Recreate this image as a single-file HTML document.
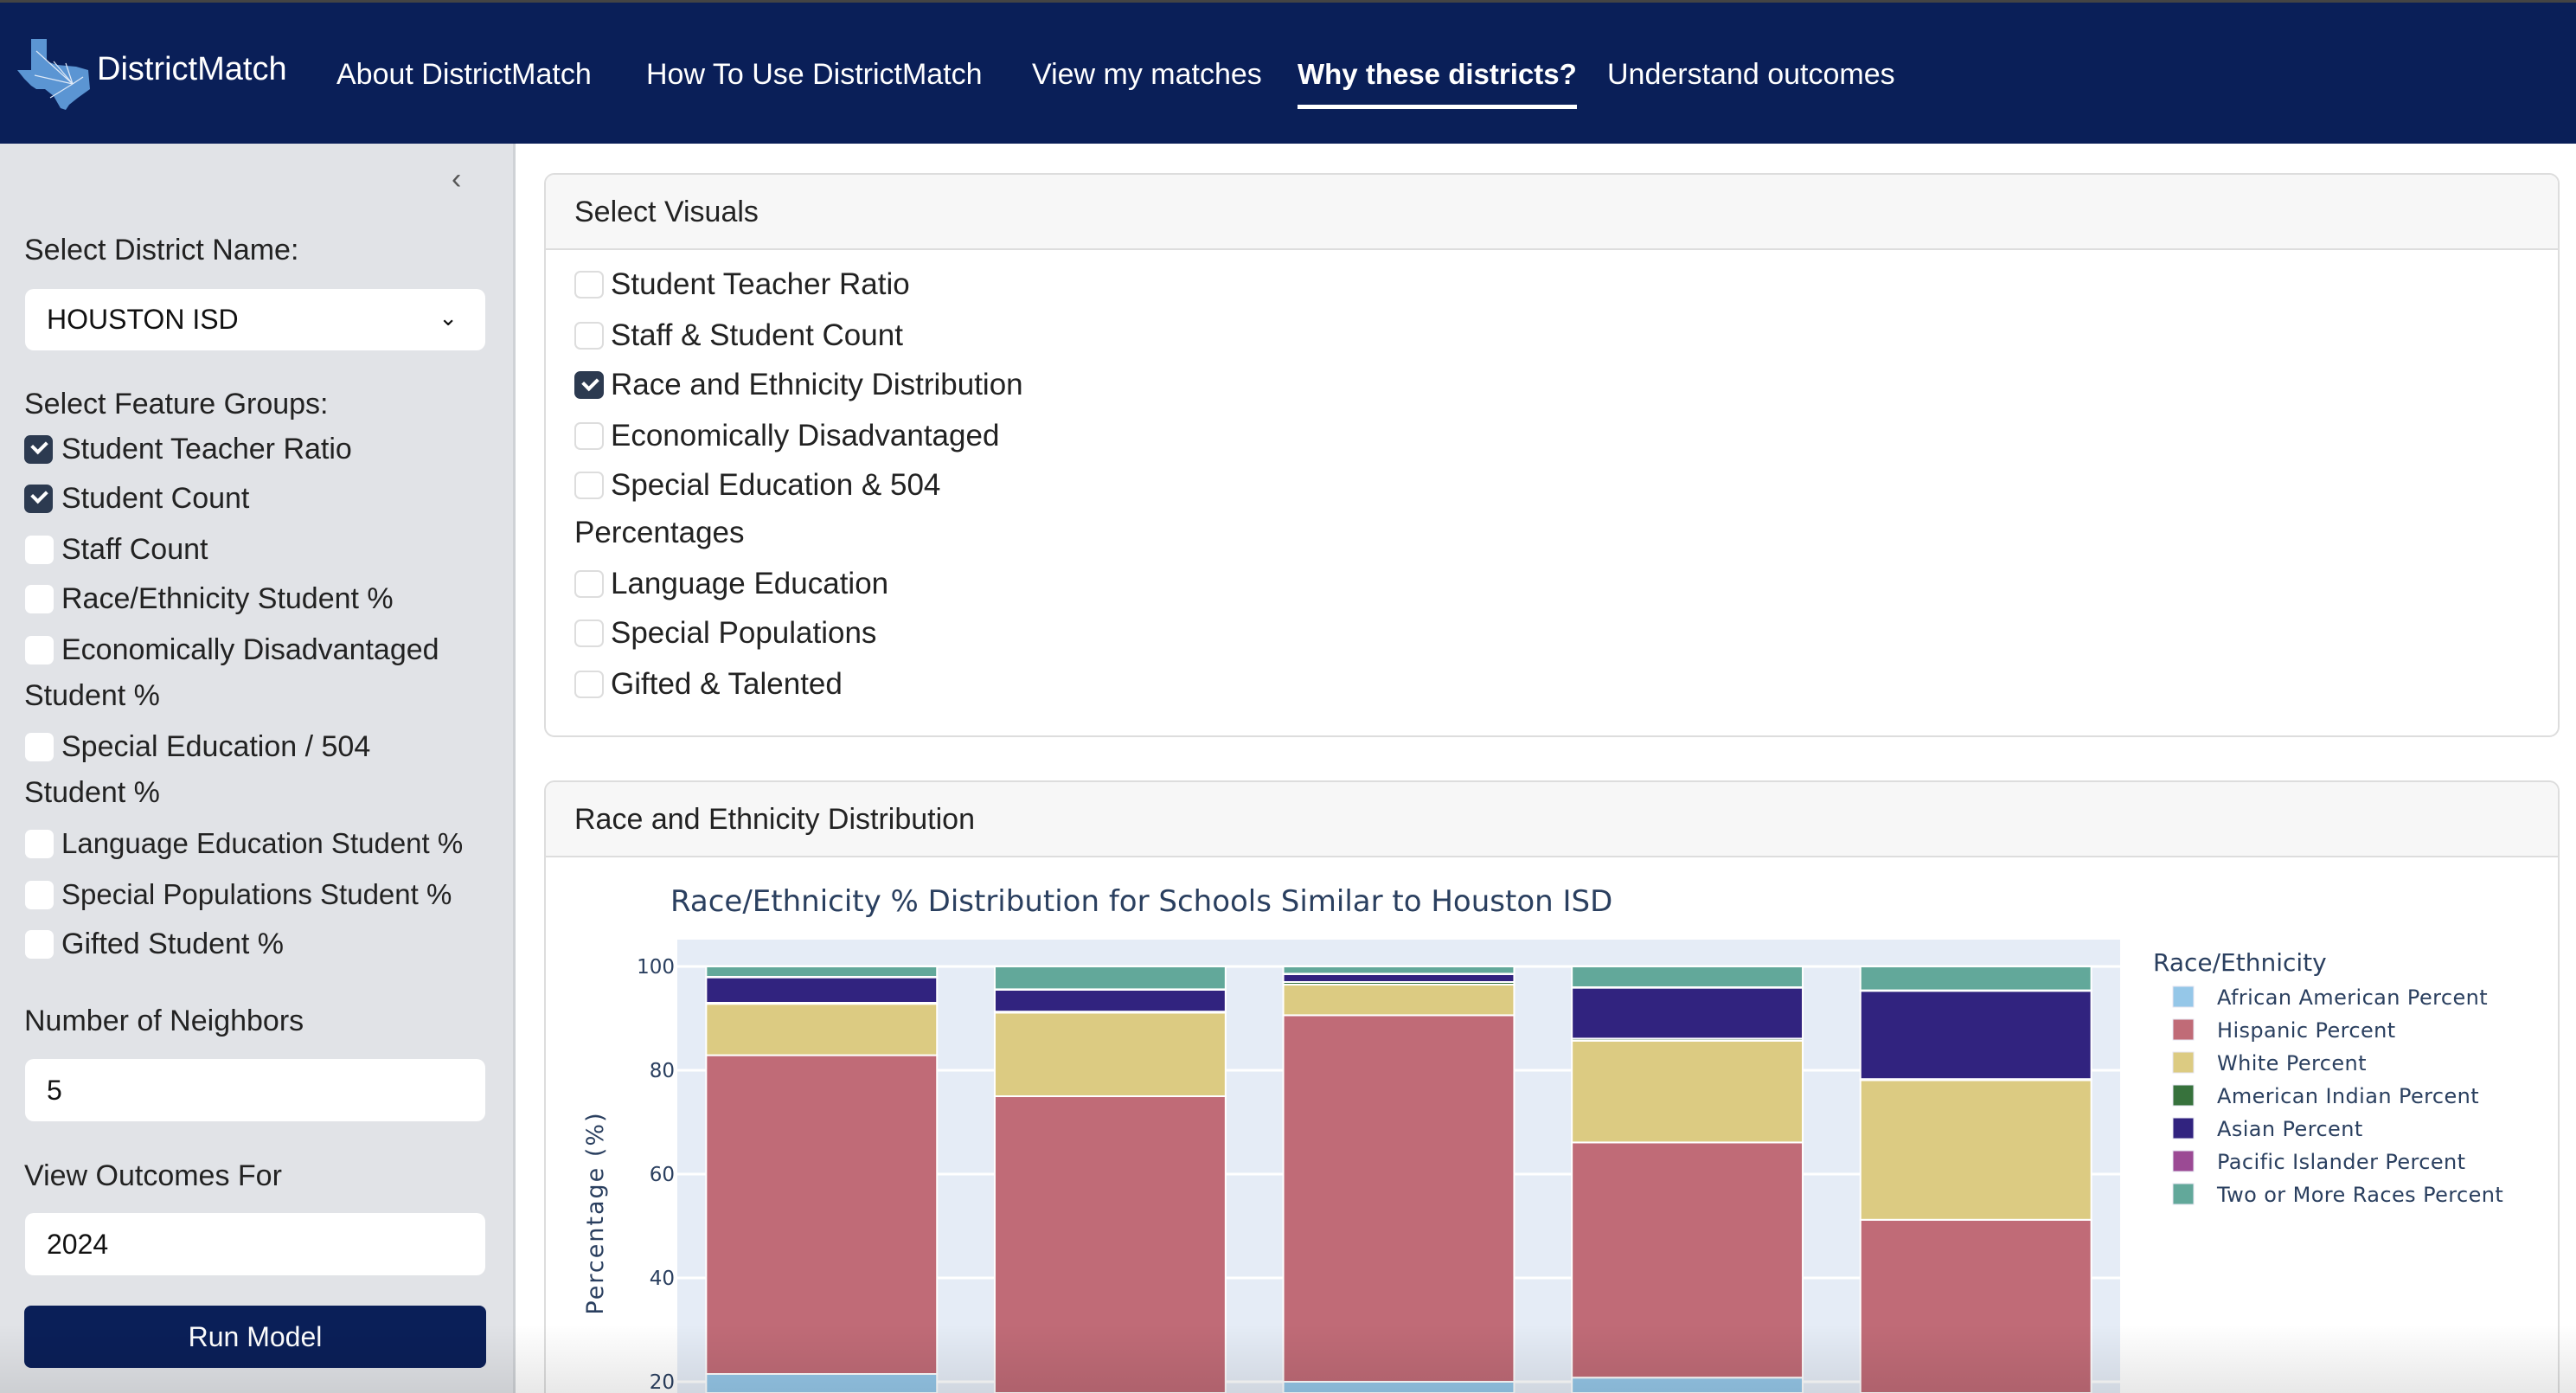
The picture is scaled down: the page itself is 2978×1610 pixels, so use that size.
<!DOCTYPE html>
<html><head><meta charset="utf-8">
<style>
*{box-sizing:border-box;margin:0;padding:0}
html{width:2978px;height:1610px;overflow:hidden}
body{width:2978px;height:1610px;overflow:hidden;position:relative;background:#fff;font-family:"Liberation Sans",sans-serif;color:#222}
.abs{position:absolute;white-space:nowrap}
#nav{position:absolute;left:0;top:0;width:2978px;height:166px;background:#0a1f58;border-top:3px solid #444}
.nl{position:absolute;top:62px;color:#fff;font-size:34px;line-height:42px}
#side{position:absolute;left:0;top:166px;width:596px;height:1444px;background:#e1e3e7;border-right:3px solid #cfd2d6}
.lbl{position:absolute;left:28px;font-size:34px;line-height:44px;color:#222}
.cb{position:absolute;width:33px;height:33px;background:#fff;border-radius:7px}
.cb.on{background:#2c3a50}
.cb.on::after{content:"";position:absolute;left:9px;top:6px;width:13px;height:8px;border-left:4px solid #fff;border-bottom:4px solid #fff;transform:rotate(-45deg)}
.field{position:absolute;left:29px;width:532px;background:#fff;border-radius:10px;font-size:32px;padding-left:25px;color:#111}
.card{position:absolute;left:629px;width:2330px;border:2px solid #ddd;border-radius:12px;overflow:hidden;background:#fff}
.chd{height:87px;background:#f7f7f7;border-bottom:2px solid #ddd;font-size:34px;line-height:87px;padding-left:33px;color:#222}
.vcb{position:absolute;left:33px;width:34px;height:32px;border:2px solid #ddd;border-radius:7px;background:#fff}
.vcb.on{background:#2c3a50;border-color:#2c3a50}
.vcb.on::after{content:"";position:absolute;left:8px;top:5px;width:13px;height:8px;border-left:4px solid #fff;border-bottom:4px solid #fff;transform:rotate(-45deg)}
.vt{position:absolute;left:75px;font-size:35px;line-height:44px;color:#222}
</style></head><body>
<div id="nav">
  <svg class="abs" style="left:18px;top:38px" width="90" height="86" viewBox="0 0 90 86">
    <path d="M18 4 L36 4 L36 30 L48 34 L70 36 L84 40 L86 62 L72 72 L62 80 L58 86 L52 84 L44 70 L34 62 L24 62 L18 58 L10 50 L2 40 L18 40 Z" fill="#5b95d3"/>
    <g stroke="#dfe9f7" stroke-width="1.2"><line x1="66" y1="56" x2="24" y2="18"/><line x1="66" y1="56" x2="22" y2="46"/><line x1="66" y1="56" x2="44" y2="30"/><line x1="66" y1="56" x2="58" y2="32"/><line x1="66" y1="56" x2="40" y2="72"/><line x1="66" y1="56" x2="78" y2="48"/></g>
  </svg>
  <div class="nl" style="left:112px;top:56px;font-size:38px">DistrictMatch</div>
  <div class="nl" style="left:389px">About DistrictMatch</div>
  <div class="nl" style="left:747px">How To Use DistrictMatch</div>
  <div class="nl" style="left:1193px">View my matches</div>
  <div class="nl" style="left:1500px;font-weight:bold;font-size:33px;border-bottom:5px solid #fff;padding-bottom:14px">Why these districts?</div>
  <div class="nl" style="left:1858px">Understand outcomes</div>
</div>

<div id="side">
  <div class="abs" style="left:522px;top:22px;font-size:34px;color:#555">&#8249;</div>
  <div class="lbl" style="top:101px">Select District Name:</div>
  <div class="field" style="top:168px;height:71px;line-height:71px">HOUSTON ISD<span style="position:absolute;right:32px;top:-2px;font-size:26px">&#8964;</span></div>
  <div class="lbl" style="top:279px">Select Feature Groups:</div>
  <div class="cb on" style="left:28px;top:337px"></div>
  <div class="lbl" style="left:71px;top:331px">Student Teacher Ratio</div>
  <div class="cb on" style="left:28px;top:394px"></div>
  <div class="lbl" style="left:71px;top:388px">Student Count</div>
  <div class="cb" style="left:29px;top:453px"></div>
  <div class="lbl" style="left:71px;top:447px">Staff Count</div>
  <div class="cb" style="left:29px;top:510px"></div>
  <div class="lbl" style="left:71px;top:504px">Race/Ethnicity Student %</div>
  <div class="cb" style="left:29px;top:569px"></div>
  <div class="lbl" style="left:71px;top:563px">Economically Disadvantaged</div>
  <div class="lbl" style="top:616px">Student %</div>
  <div class="cb" style="left:29px;top:681px"></div>
  <div class="lbl" style="left:71px;top:675px">Special Education / 504</div>
  <div class="lbl" style="top:728px">Student %</div>
  <div class="cb" style="left:29px;top:793px"></div>
  <div class="lbl" style="left:71px;top:787px;font-size:33px">Language Education Student %</div>
  <div class="cb" style="left:29px;top:852px"></div>
  <div class="lbl" style="left:71px;top:846px;font-size:33px">Special Populations Student %</div>
  <div class="cb" style="left:29px;top:909px"></div>
  <div class="lbl" style="left:71px;top:903px">Gifted Student %</div>
  <div class="lbl" style="top:992px">Number of Neighbors</div>
  <div class="field" style="top:1058px;height:72px;line-height:72px">5</div>
  <div class="lbl" style="top:1171px">View Outcomes For</div>
  <div class="field" style="top:1236px;height:72px;line-height:72px">2024</div>
  <div class="abs" style="left:28px;top:1343px;width:534px;height:72px;background:#0a1f58;border-radius:8px;color:#fff;font-size:32px;line-height:72px;text-align:center">Run Model</div>
</div>

<div class="card" style="top:200px;height:652px">
  <div class="chd">Select Visuals</div>
  <div class="vcb" style="top:111px"></div>
  <div class="vt" style="top:105px">Student Teacher Ratio</div>
  <div class="vcb" style="top:170px"></div>
  <div class="vt" style="top:164px">Staff &amp; Student Count</div>
  <div class="vcb on" style="top:227px"></div>
  <div class="vt" style="top:221px">Race and Ethnicity Distribution</div>
  <div class="vcb" style="top:286px"></div>
  <div class="vt" style="top:280px">Economically Disadvantaged</div>
  <div class="vcb" style="top:343px"></div>
  <div class="vt" style="top:337px">Special Education &amp; 504</div>
  <div class="vt" style="left:33px;top:392px">Percentages</div>
  <div class="vcb" style="top:457px"></div>
  <div class="vt" style="top:451px">Language Education</div>
  <div class="vcb" style="top:514px"></div>
  <div class="vt" style="top:508px">Special Populations</div>
  <div class="vcb" style="top:573px"></div>
  <div class="vt" style="top:567px">Gifted &amp; Talented</div>
</div>

<div class="card" style="top:902px;height:708px;border-bottom:none;border-radius:12px 12px 0 0">
  <div class="chd">Race and Ethnicity Distribution</div>
</div>

<svg id="chart" class="abs" style="left:0;top:0;overflow:hidden" width="2978" height="1610">
  <defs><clipPath id="plotclip"><rect x="0" y="0" width="2978" height="1610"/></clipPath></defs>
  <g id="plotg" clip-path="url(#plotclip)"></g>
</svg>
<div class="abs" style="left:0;top:1530px;width:2978px;height:80px;background:linear-gradient(rgba(0,0,0,0),rgba(0,0,0,0.09))"></div>

<script>
const categories = ["Neighbor 1","Neighbor 2","Neighbor 3","Neighbor 4","Neighbor 5"];
const seriesNames = ["African American Percent","Hispanic Percent","White Percent","American Indian Percent","Asian Percent","Pacific Islander Percent","Two or More Races Percent"];
const africanAmerican = [21.5, 17.5, 20.0, 20.8, 17.0];
const hispanic = [61.4, 57.5, 70.6, 45.3, 34.2];
const white = [9.9, 16.1, 5.9, 19.6, 26.9];
const americanIndian = [0.2, 0.2, 0.5, 0.4, 0.2];
const asian = [4.9, 4.2, 1.5, 9.8, 17.0];
const pacificIslander = [0.1, 0.1, 0.1, 0.1, 0.1];
const twoOrMore = [2.0, 4.4, 1.4, 4.0, 4.6];
const yTicks = [0, 20, 40, 60, 80, 100];
const colors = ["#95c7e8","#c06b77","#dccb82","#37723c","#31237f","#9b4a94","#62a89a"];

const NS = "http://www.w3.org/2000/svg";
const svg = document.getElementById("plotg");
const plotL = 783, plotR = 2451, plotT = 1086, y100 = 1117, pxPerUnit = 6, viewBottom = 1610;
const yScale = v => y100 + (100 - v) * pxPerUnit;
const band = (plotR - plotL) / categories.length;
const xScale = i => plotL + band * i + band * 0.1;
const barW = band * 0.8;
function mk(tag, attrs){const e=document.createElementNS(NS,tag);for(const k in attrs)e.setAttribute(k,attrs[k]);svg.appendChild(e);return e;}

const bg = mk("rect",{x:plotL,y:plotT,width:plotR-plotL,height:viewBottom-plotT,fill:"#e5ecf6"});



yTicks.forEach(t=>{
  const y = yScale(t);
  if (y > viewBottom) return;
  const g = mk("line",{x1:plotL,x2:plotR,y1:y,y2:y,stroke:"#fff","stroke-width":3});
  
  
  const tx = mk("text",{x:780,y:y+8,"text-anchor":"end","font-family":"DejaVu Sans, sans-serif","font-size":23,fill:"#2a3f5f"});
  tx.textContent = t;
  
  
});

const series = [africanAmerican, hispanic, white, americanIndian, asian, pacificIslander, twoOrMore];
categories.forEach((c,i)=>{
  let base = 0;
  series.forEach((s,k)=>{
    const v = s[i];
    const top = base + v;
    const y0 = Math.min(yScale(base), viewBottom);
    const y1 = yScale(top);
    const r = mk("rect",{x:xScale(i),y:Math.min(y1,viewBottom),width:barW,height:Math.max(0,y0-y1),fill:colors[k],stroke:"#fff","stroke-width":2});
    
    
    base = top;
  });
});

const title = mk("text",{x:775,y:1053,"font-family":"DejaVu Sans, sans-serif","font-size":34,fill:"#2a3f5f"});
title.textContent = "Race/Ethnicity % Distribution for Schools Similar to Houston ISD";



const yt = mk("text",{x:0,y:0,transform:"translate(697,1402) rotate(-90)","text-anchor":"middle","font-family":"DejaVu Sans, sans-serif","font-size":27,fill:"#2a3f5f","letter-spacing":"2"});
yt.textContent = "Percentage (%)";



const lt = mk("text",{x:2489,y:1122,"font-family":"DejaVu Sans, sans-serif","font-size":28,fill:"#2a3f5f"});
lt.textContent = "Race/Ethnicity";


seriesNames.forEach((n,k)=>{
  const cy = 1152 + k*38;
  const sw = mk("rect",{x:2512,y:cy-12,width:24,height:24,fill:colors[k],stroke:"#e6e6f0","stroke-width":1});
  
  
  const t = mk("text",{x:2563,y:cy+9,"font-family":"DejaVu Sans, sans-serif","font-size":24,fill:"#2a3f5f","letter-spacing":"0.4"});
  t.textContent = n;
  
  
});
</script>
</body></html>
